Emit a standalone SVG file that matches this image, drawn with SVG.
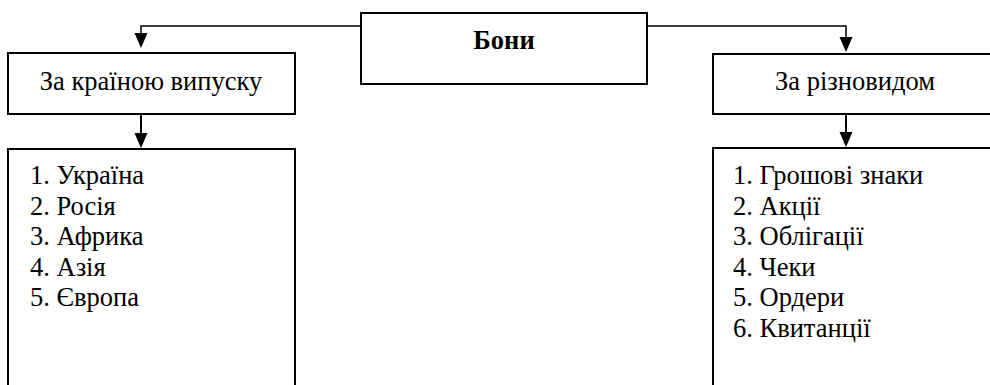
<svg xmlns="http://www.w3.org/2000/svg" width="990" height="385" viewBox="0 0 990 385">
<style>
.box{fill:#fff;stroke:#000;stroke-width:2}
.t{font-family:"Liberation Serif","Times New Roman",serif;font-size:26.5px;fill:#000}
.b{font-weight:bold}
.c{text-anchor:middle}
.ln{fill:none;stroke:#000;stroke-width:1.5}
.sh{fill:none;stroke:#000;stroke-width:2}
</style>
<defs>
<marker id="ah" markerWidth="13" markerHeight="15" refX="6.5" refY="15" orient="auto-start-reverse" markerUnits="userSpaceOnUse" viewBox="0 0 13 15">
<path d="M0,0 L13,0 L6.5,15 Z" fill="#000"/>
</marker>
</defs>
<rect width="990" height="385" fill="#fff"/>
<g id="connectors">
<path class="ln" d="M361,26 H141 V36"/>
<path d="M134.5,33 L147.5,33 L141,48 Z" fill="#000"/>
<path class="ln" d="M647,26 H846 V38"/>
<path d="M839.5,37 L852.5,37 L846,52 Z" fill="#000"/>
<path class="sh" d="M141,114 V135"/>
<path d="M134.5,133 L147.5,133 L141,148 Z" fill="#000"/>
<path class="sh" d="M846,114 V134"/>
<path d="M839.5,132 L852.5,132 L846,147 Z" fill="#000"/>
</g>
<g id="boni">
<rect class="box" x="361" y="13" width="286" height="71"/>
<text class="t b c" x="504" y="49">Бони</text>
</g>
<g id="za-krainoyu">
<rect class="box" x="8" y="53" width="287" height="61"/>
<text class="t c" x="151" y="90">За країною випуску</text>
</g>
<g id="za-riznovydom">
<rect class="box" x="713" y="54" width="284" height="60"/>
<text class="t c" x="855" y="90">За різновидом</text>
</g>
<g id="list-krainy">
<rect class="box" x="8" y="149" width="287" height="250"/>
<text class="t" x="30" y="184">1. Україна</text>
<text class="t" x="30" y="214.5">2. Росія</text>
<text class="t" x="30" y="245">3. Африка</text>
<text class="t" x="30" y="275.5">4. Азія</text>
<text class="t" x="30" y="306">5. Європа</text>
</g>
<g id="list-riznovydy">
<rect class="box" x="713" y="148" width="284" height="250"/>
<text class="t" x="733" y="184">1. Грошові знаки</text>
<text class="t" x="733" y="214.5">2. Акції</text>
<text class="t" x="733" y="245">3. Облігації</text>
<text class="t" x="733" y="275.5">4. Чеки</text>
<text class="t" x="733" y="306">5. Ордери</text>
<text class="t" x="733" y="336.5">6. Квитанції</text>
</g>
</svg>
